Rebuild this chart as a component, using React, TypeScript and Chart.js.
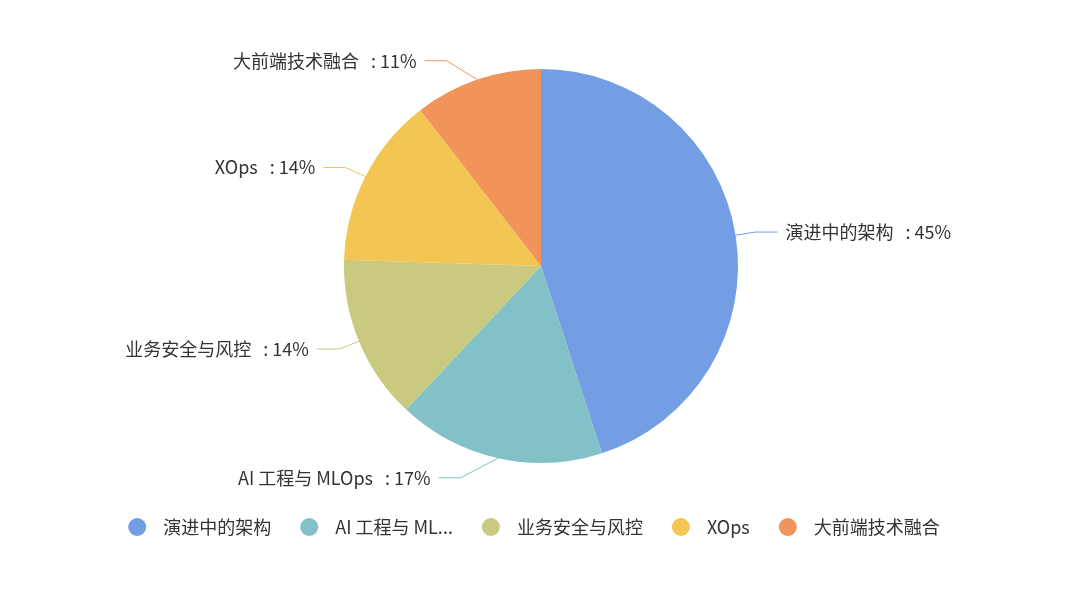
import React, { useEffect, useRef } from "react";
import { Chart, registerables } from "chart.js";

Chart.register(...registerables);

const categories = ["演进中的架构", "AI 工程与 MLOps", "业务安全与风控", "XOps", "大前端技术融合"];
const legendLabels = ["演进中的架构", "AI 工程与 ML...", "业务安全与风控", "XOps", "大前端技术融合"];
const values = [45, 17, 13.5, 14, 10.5];
const colors = ["#739ee3", "#81c1c7", "#c9c97f", "#f3c654", "#f1945a"];

const FONT = '"Noto Sans CJK SC", "Noto Sans", sans-serif';
const TEXT_COLOR = "#333333";

const labelPlugin = {
  id: "outerLabels",
  afterDraw(chart: any) {
    const ctx = chart.ctx as CanvasRenderingContext2D;
    const meta = chart.getDatasetMeta(0);
    const total = values.reduce((a, b) => a + b, 0);
    const len = 20;
    const len2 = 22;
    ctx.save();
    ctx.font = `18px ${FONT}`;
    ctx.textBaseline = "middle";
    ctx.textAlign = "left";
    meta.data.forEach((arc: any, i: number) => {
      const { x: cx, y: cy, startAngle, endAngle, outerRadius: r } = arc.getProps(
        ["x", "y", "startAngle", "endAngle", "outerRadius"],
        true
      );
      const mid = (startAngle + endAngle) / 2;
      const c = Math.cos(mid);
      const s = Math.sin(mid);
      const dir = c >= 0 ? 1 : -1;
      const p0x = cx + r * c;
      const p0y = cy + r * s;
      const rA = r + len;
      const rB = r + len + 11;
      const dy = rA * s;
      const dx = Math.sqrt(Math.max(0, 1 - (dy * dy) / (rB * rB))) * rA;
      const ex = cx + dir * dx;
      const ey = cy + dy;
      const lx = ex + dir * len2;
      ctx.strokeStyle = colors[i];
      ctx.lineWidth = 1;
      ctx.beginPath();
      ctx.moveTo(p0x, p0y);
      ctx.lineTo(ex, ey);
      ctx.lineTo(lx, ey);
      ctx.stroke();
      const pct = Math.round((values[i] * 100) / total);
      const name = categories[i];
      const pctText = `${pct}%`;
      const wName = ctx.measureText(name).width;
      const wColon = ctx.measureText(":").width;
      const wPct = ctx.measureText(pctText).width;
      const gap1 = 12;
      const gap2 = 4;
      const totalW = wName + gap1 + wColon + gap2 + wPct;
      const startX = dir > 0 ? lx + 8 : lx - 8 - totalW;
      ctx.fillStyle = TEXT_COLOR;
      ctx.fillText(name, startX, ey);
      ctx.fillText(":", startX + wName + gap1, ey);
      ctx.fillText(pctText, startX + wName + gap1 + wColon + gap2, ey);
    });

    // legend
    const ly = 527;
    const rad = 9;
    const gap = 29;
    const widths = legendLabels.map((t) => 35 + ctx.measureText(t).width);
    const totalW = widths.reduce((a, b) => a + b, 0) + gap * (widths.length - 1);
    let x = chart.width / 2 - 6 - totalW / 2;
    ctx.textAlign = "left";
    legendLabels.forEach((t, i) => {
      ctx.fillStyle = colors[i];
      ctx.beginPath();
      ctx.arc(x + rad, ly, rad, 0, Math.PI * 2);
      ctx.fill();
      ctx.fillStyle = TEXT_COLOR;
      ctx.fillText(t, x + rad + 26, ly);
      x += widths[i] + gap;
    });
    ctx.restore();
  },
};

export default function App() {
  const ref = useRef<HTMLCanvasElement | null>(null);
  useEffect(() => {
    document.body.style.margin = "0";
    const chart = new Chart(ref.current!, {
      type: "pie",
      data: {
        labels: categories,
        datasets: [
          {
            data: values,
            backgroundColor: colors,
            borderWidth: 0,
          },
        ],
      },
      options: {
        responsive: false,
        animation: false,
        devicePixelRatio: 1,
        layout: { padding: { top: 69, bottom: 126, left: 2, right: 0 } },
        plugins: {
          legend: { display: false },
          tooltip: { enabled: false },
        },
      },
      plugins: [labelPlugin],
    });
    return () => chart.destroy();
  }, []);
  return (
    <div style={{ width: 1080, height: 589, background: "#fff" }}>
      <canvas ref={ref} width={1080} height={589} />
    </div>
  );
}
